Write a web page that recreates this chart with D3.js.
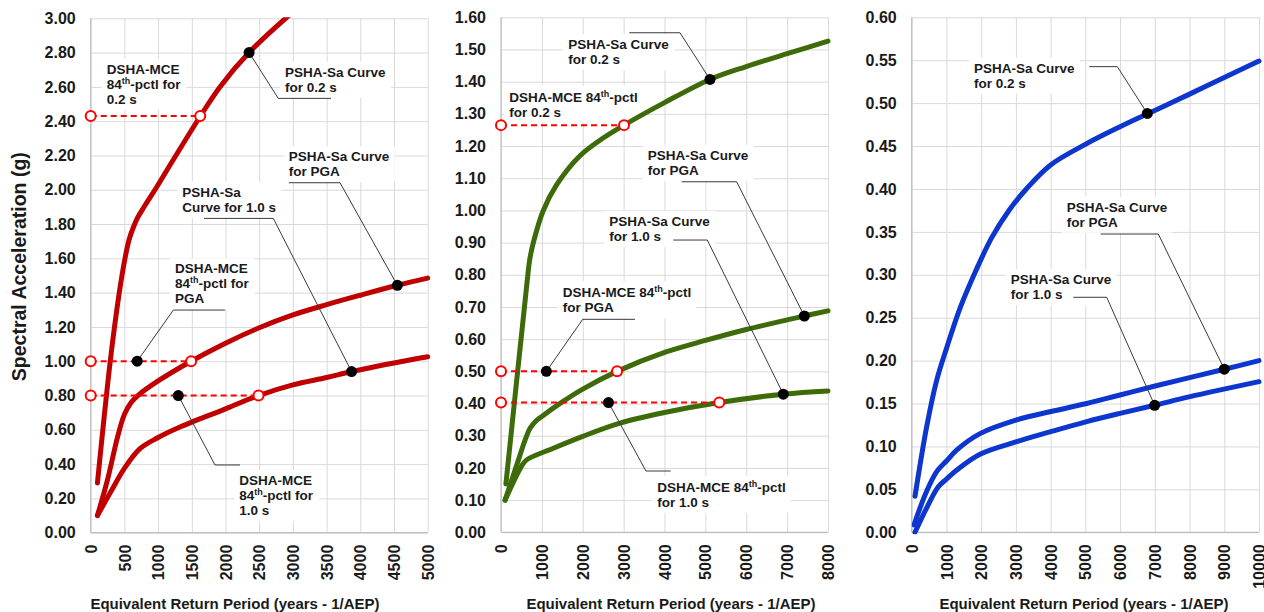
<!DOCTYPE html>
<html>
<head>
<meta charset="utf-8">
<script src="https://cdn.jsdelivr.net/npm/d3@7"></script>
<style>
  html, body { margin: 0; padding: 0; background: #fff; }
  svg { display: block; font-family: "Liberation Sans", Arial, sans-serif; }
</style>
</head>
<body>
<svg id="chart" width="1264" height="612"></svg>
<script>
// ---------------- data ----------------
// Panel A (red): return period (yr) vs spectral acceleration (g)
const aSa02Rp = [100, 290, 424, 509, 570, 632, 700, 800, 954, 1241, 1612, 1918, 2350, 2893, 3050];
const aSa02Sa = [0.29, 1.00, 1.40, 1.60, 1.71, 1.78, 1.84, 1.905, 2.00, 2.185, 2.42, 2.60, 2.80, 3.00, 3.05];
const aPgaRp  = [100, 250, 400, 500, 600, 700, 1000, 1490, 2000, 2500, 3000, 3500, 4000, 4550, 5000];
const aPgaSa  = [0.10, 0.31, 0.56, 0.69, 0.76, 0.80, 0.885, 1.00, 1.105, 1.195, 1.27, 1.33, 1.385, 1.443, 1.485];
const a10Rp   = [100, 300, 500, 731, 1000, 1300, 2000, 2490, 3000, 3500, 3870, 4500, 5000];
const a10Sa   = [0.10, 0.24, 0.375, 0.49, 0.555, 0.612, 0.722, 0.80, 0.862, 0.905, 0.94, 0.99, 1.026];
const aDshaSa = [2.43, 1.00, 0.80];          // DSHA-MCE 84th-pctl levels
const aDshaRp = [1625, 1490, 2490];          // where each level meets its PSHA curve
const aDshaDotRp = [690, 1300];              // label anchors on the PGA and 1.0 s levels
const aDshaDotSa = [1.00, 0.80];
const aPshaDotRp = [2350, 4550, 3870];       // label anchors on 0.2 s, PGA, 1.0 s curves
const aPshaDotSa = [2.80, 1.443, 0.94];
const aXTicks = [0, 500, 1000, 1500, 2000, 2500, 3000, 3500, 4000, 4500, 5000];
const aYTicks = [0, 0.2, 0.4, 0.6, 0.8, 1.0, 1.2, 1.4, 1.6, 1.8, 2.0, 2.2, 2.4, 2.6, 2.8, 3.0];

// Panel B (green)
const bSa02Rp = [120, 640, 700, 791, 1035, 1363, 1933, 2500, 3010, 4000, 5113, 6000, 7000, 8000];
const bSa02Sa = [0.15, 0.78, 0.845, 0.90, 1.00, 1.08, 1.17, 1.225, 1.265, 1.335, 1.407, 1.447, 1.487, 1.526];
const bPgaRp  = [100, 400, 600, 710, 850, 1000, 1500, 2000, 2840, 4054, 5000, 6000, 7000, 7421, 8000];
const bPgaSa  = [0.10, 0.215, 0.29, 0.323, 0.345, 0.36, 0.405, 0.445, 0.50, 0.561, 0.596, 0.63, 0.66, 0.672, 0.688];
const b10Rp   = [100, 500, 628, 1280, 2000, 2910, 4000, 5340, 6907, 8000];
const b10Sa   = [0.10, 0.205, 0.225, 0.261, 0.298, 0.339, 0.372, 0.403, 0.429, 0.439];
const bDshaSa = [1.265, 0.50, 0.403];
const bDshaRp = [3010, 2840, 5340];
const bDshaDotRp = [1110, 2630];
const bDshaDotSa = [0.50, 0.403];
const bPshaDotRp = [5113, 7421, 6907];
const bPshaDotSa = [1.407, 0.672, 0.429];
const bXTicks = [0, 1000, 2000, 3000, 4000, 5000, 6000, 7000, 8000];
const bYTicks = [0, 0.1, 0.2, 0.3, 0.4, 0.5, 0.6, 0.7, 0.8, 0.9, 1.0, 1.1, 1.2, 1.3, 1.4, 1.5, 1.6];

// Panel C (blue)
const cSa02Rp = [95, 431, 719, 1000, 1400, 1850, 2300, 2800, 3300, 4000, 5000, 6000, 7000, 8000, 9000, 10000];
const cSa02Sa = [0.042, 0.123, 0.177, 0.214, 0.262, 0.305, 0.343, 0.375, 0.40, 0.428, 0.452, 0.4725, 0.4915, 0.5105, 0.530, 0.549];
const cPgaRp  = [66, 400, 719, 1000, 1300, 1967, 3023, 3982, 5039, 5998, 7008, 9001, 10000];
const cPgaSa  = [0.0085, 0.045, 0.0706, 0.083, 0.096, 0.115, 0.131, 0.1405, 0.150, 0.160, 0.1705, 0.190, 0.200];
const c10Rp   = [95, 450, 766, 1000, 1300, 1967, 3023, 3982, 5039, 5998, 6996, 8013, 10000];
const c10Sa   = [0.0, 0.03, 0.053, 0.062, 0.0726, 0.091, 0.1056, 0.117, 0.129, 0.1386, 0.148, 0.158, 0.1755];
const cPshaDotRp = [6784, 9001, 6996];
const cPshaDotSa = [0.488, 0.190, 0.148];
const cXTicks = [0, 1000, 2000, 3000, 4000, 5000, 6000, 7000, 8000, 9000, 10000];
const cYTicks = [0, 0.05, 0.1, 0.15, 0.2, 0.25, 0.3, 0.35, 0.4, 0.45, 0.5, 0.55, 0.6];

const xTitle = "Equivalent Return Period (years - 1/AEP)";
const yTitle = "Spectral Acceleration (g)";

// ---------------- layout ----------------
const zip = (xs, ys) => xs.map((v, i) => [v, ys[i]]);

const panels = [
  {
    left: 90.7, right: 427.7, top: 18.3, bottom: 532.7, xMax: 5000, yMax: 3.0,
    xTicks: aXTicks, yTicks: aYTicks, color: "#c00000", titleX: 235,
    curves: [zip(aSa02Rp, aSa02Sa), zip(aPgaRp, aPgaSa), zip(a10Rp, a10Sa)],
    dsha: zip(aDshaRp, aDshaSa), dshaDots: zip(aDshaDotRp, aDshaDotSa),
    pshaDots: zip(aPshaDotRp, aPshaDotSa),
    notes: [
      { at: [237, 2.675], lines: ["DSHA-MCE", "84^th-pctl for", "0.2 s"] },
      { at: [2883, 2.659], lines: ["PSHA-Sa Curve", "for 0.2 s"],
        leader: [[2350, 2.80], [2783, 2.533], [3565, 2.533]] },
      { at: [2938, 2.167], lines: ["PSHA-Sa Curve", "for PGA"],
        leader: [[2938, 2.041], [3699, 2.041], [4550, 1.443]] },
      { at: [1359, 1.959], lines: ["PSHA-Sa", "Curve for 1.0 s"],
        leader: [[1681, 1.833], [2709, 1.833], [3870, 0.94]] },
      { at: [1251, 1.5125], lines: ["DSHA-MCE", "84^th-pctl for", "PGA"],
        leader: [[1993, 1.2985], [1226, 1.2985], [690, 1.00]] },
      { at: [2205, 0.278], lines: ["DSHA-MCE", "84^th-pctl for", "1.0 s"],
        leader: [[1300, 0.80], [1844, 0.395], [2215, 0.395]] }
    ]
  },
  {
    left: 501, right: 828, top: 17.3, bottom: 532.3, xMax: 8000, yMax: 1.6,
    xTicks: bXTicks, yTicks: bYTicks, color: "#3d6b0a", titleX: 671,
    curves: [zip(bSa02Rp, bSa02Sa), zip(bPgaRp, bPgaSa), zip(b10Rp, b10Sa)],
    dsha: zip(bDshaRp, bDshaSa), dshaDots: zip(bDshaDotRp, bDshaDotSa),
    pshaDots: zip(bPshaDotRp, bPshaDotSa),
    notes: [
      { at: [1646, 1.501], lines: ["PSHA-Sa Curve", "for 0.2 s"],
        leader: [[3139, 1.552], [4379, 1.552], [5113, 1.407]] },
      { at: [203, 1.338], lines: ["DSHA-MCE 84^th-pctl", "for 0.2 s"] },
      { at: [3589, 1.157], lines: ["PSHA-Sa Curve", "for PGA"],
        leader: [[4421, 1.089], [5766, 1.089], [7421, 0.672]] },
      { at: [2650, 0.9515], lines: ["PSHA-Sa Curve", "for 1.0 s"],
        leader: [[4215, 0.908], [5047, 0.908], [6907, 0.429]] },
      { at: [1509, 0.730], lines: ["DSHA-MCE 84^th-pctl", "for PGA"],
        leader: [[3278, 0.6617], [1999, 0.6617], [1110, 0.50]] },
      { at: [3824, 0.126], lines: ["DSHA-MCE 84^th-pctl", "for 1.0 s"],
        leader: [[2630, 0.403], [3547, 0.1904], [4152, 0.1904]] }
    ]
  },
  {
    left: 911.7, right: 1259, top: 17.3, bottom: 532.3, xMax: 10000, yMax: 0.6,
    xTicks: cXTicks, yTicks: cYTicks, color: "#0d36cf", titleX: 1084,
    curves: [zip(cSa02Rp, cSa02Sa), zip(cPgaRp, cPgaSa), zip(c10Rp, c10Sa)],
    dsha: [], dshaDots: [],
    pshaDots: zip(cPshaDotRp, cPshaDotSa),
    notes: [
      { at: [1794, 0.5355], lines: ["PSHA-Sa Curve", "for 0.2 s"],
        leader: [[5114, 0.5425], [5920, 0.5425], [6784, 0.488]] },
      { at: [4463, 0.3735], lines: ["PSHA-Sa Curve", "for PGA"],
        leader: [[5442, 0.3475], [7100, 0.3475], [9001, 0.190]] },
      { at: [2851, 0.289], lines: ["PSHA-Sa Curve", "for 1.0 s"],
        leader: [[4653, 0.2738], [5615, 0.2738], [6996, 0.148]] }
    ]
  }
];

// ---------------- drawing ----------------
const svg = d3.select("#chart");
const GRID = "#d9d9d9", AXIS = "#bfbfbf", TEXT = "#1a1a1a";

// shared y title
svg.append("text")
  .attr("transform", "translate(26,266.7) rotate(-90)")
  .attr("text-anchor", "middle")
  .attr("font-size", "19.5px").attr("font-weight", "bold").attr("fill", TEXT)
  .text(yTitle);

panels.forEach((p, pi) => {
  const x = d3.scaleLinear().domain([0, p.xMax]).range([p.left, p.right]);
  const y = d3.scaleLinear().domain([0, p.yMax]).range([p.bottom, p.top]);
  const w = p.right - p.left, h = p.bottom - p.top;
  const g = svg.append("g");

  // gridlines + tick labels
  const yAxis = g.append("g").attr("transform", `translate(${p.left},0)`)
    .call(d3.axisLeft(y).tickValues(p.yTicks).tickSize(-w).tickPadding(15)
      .tickFormat(d3.format(".2f")));
  const xAxis = g.append("g").attr("transform", `translate(0,${p.bottom})`)
    .call(d3.axisBottom(x).tickValues(p.xTicks).tickSize(-h).tickFormat(d3.format("d")));
  [yAxis, xAxis].forEach(a => {
    a.select(".domain").remove();
    a.selectAll(".tick line").attr("stroke", GRID).attr("stroke-width", 1);
    a.selectAll(".tick text")
      .attr("font-family", "Liberation Sans, Arial, sans-serif")
      .attr("font-size", "16px").attr("font-weight", "bold").attr("fill", TEXT);
  });
  xAxis.selectAll(".tick text")
    .attr("transform", "rotate(-90)")
    .attr("x", -12).attr("y", 0).attr("dy", "0.35em")
    .attr("text-anchor", "end");

  // left and bottom axis lines
  g.append("line").attr("x1", p.left).attr("x2", p.left).attr("y1", p.top).attr("y2", p.bottom)
    .attr("stroke", AXIS).attr("stroke-width", 1.2);
  g.append("line").attr("x1", p.left).attr("x2", p.right).attr("y1", p.bottom).attr("y2", p.bottom)
    .attr("stroke", AXIS).attr("stroke-width", 1.2);

  // x axis title
  g.append("text").attr("x", p.titleX).attr("y", 608.5)
    .attr("text-anchor", "middle").attr("font-size", "15px").attr("font-weight", "bold")
    .attr("fill", TEXT).text(xTitle);

  // layers: note boxes sit over the grid, under the curves
  const boxLayer = g.append("g");
  const curveLayer = g.append("g");
  const markLayer = g.append("g");
  const textLayer = g.append("g");

  // PSHA curves
  const clipId = "clip" + pi;
  svg.append("clipPath").attr("id", clipId).append("rect")
    .attr("x", p.left).attr("y", p.top - 1).attr("width", w + 3).attr("height", h + 3);
  const line = d3.line().x(d => x(d[0])).y(d => y(d[1])).curve(d3.curveCatmullRom.alpha(0.5));
  curveLayer.attr("clip-path", `url(#${clipId})`)
    .selectAll("path").data(p.curves).join("path")
    .attr("d", line).attr("fill", "none").attr("stroke", p.color)
    .attr("stroke-width", 5).attr("stroke-linecap", "round").attr("stroke-linejoin", "round");

  // leader lines
  p.notes.filter(n => n.leader).forEach(n => {
    markLayer.append("path")
      .attr("d", d3.line().x(d => x(d[0])).y(d => y(d[1]))(n.leader))
      .attr("fill", "none").attr("stroke", "#3a3a3a").attr("stroke-width", 1);
  });

  // DSHA levels: dashed guide from the axis to the curve
  p.dsha.forEach(d => {
    markLayer.append("line")
      .attr("x1", x(0)).attr("x2", x(d[0])).attr("y1", y(d[1])).attr("y2", y(d[1]))
      .attr("stroke", "#ff0000").attr("stroke-width", 2).attr("stroke-dasharray", "6,4");
  });
  p.dsha.forEach(d => {
    [0, d[0]].forEach(rp => {
      markLayer.append("circle").attr("cx", x(rp)).attr("cy", y(d[1])).attr("r", 5)
        .attr("fill", "#fff").attr("stroke", "#ff0000").attr("stroke-width", 2);
    });
  });

  // black anchor dots
  p.dshaDots.concat(p.pshaDots).forEach(d => {
    markLayer.append("circle").attr("cx", x(d[0])).attr("cy", y(d[1])).attr("r", 5.5)
      .attr("fill", "#000");
  });

  // note texts
  p.notes.forEach(n => {
    const tx = x(n.at[0]), ty = y(n.at[1]);
    const t = textLayer.append("text").attr("x", tx).attr("y", ty)
      .attr("font-size", "13.5px").attr("font-weight", "bold").attr("fill", TEXT);
    n.lines.forEach((ln, i) => {
      const parts = ln.split("^th");
      t.append("tspan").attr("x", tx).attr("dy", i ? 15 : 0).text(parts[0]);
      if (parts.length > 1) {
        t.append("tspan").attr("dy", -5).attr("font-size", "9px").text("th");
        t.append("tspan").attr("dy", 5).text(parts[1]);
      }
    });
    const bb = t.node().getBBox();
    boxLayer.append("rect")
      .attr("x", bb.x - 5).attr("y", bb.y - 3)
      .attr("width", bb.width + 10).attr("height", bb.height + 6)
      .attr("fill", "#fff");
  });
});
</script>
</body>
</html>
